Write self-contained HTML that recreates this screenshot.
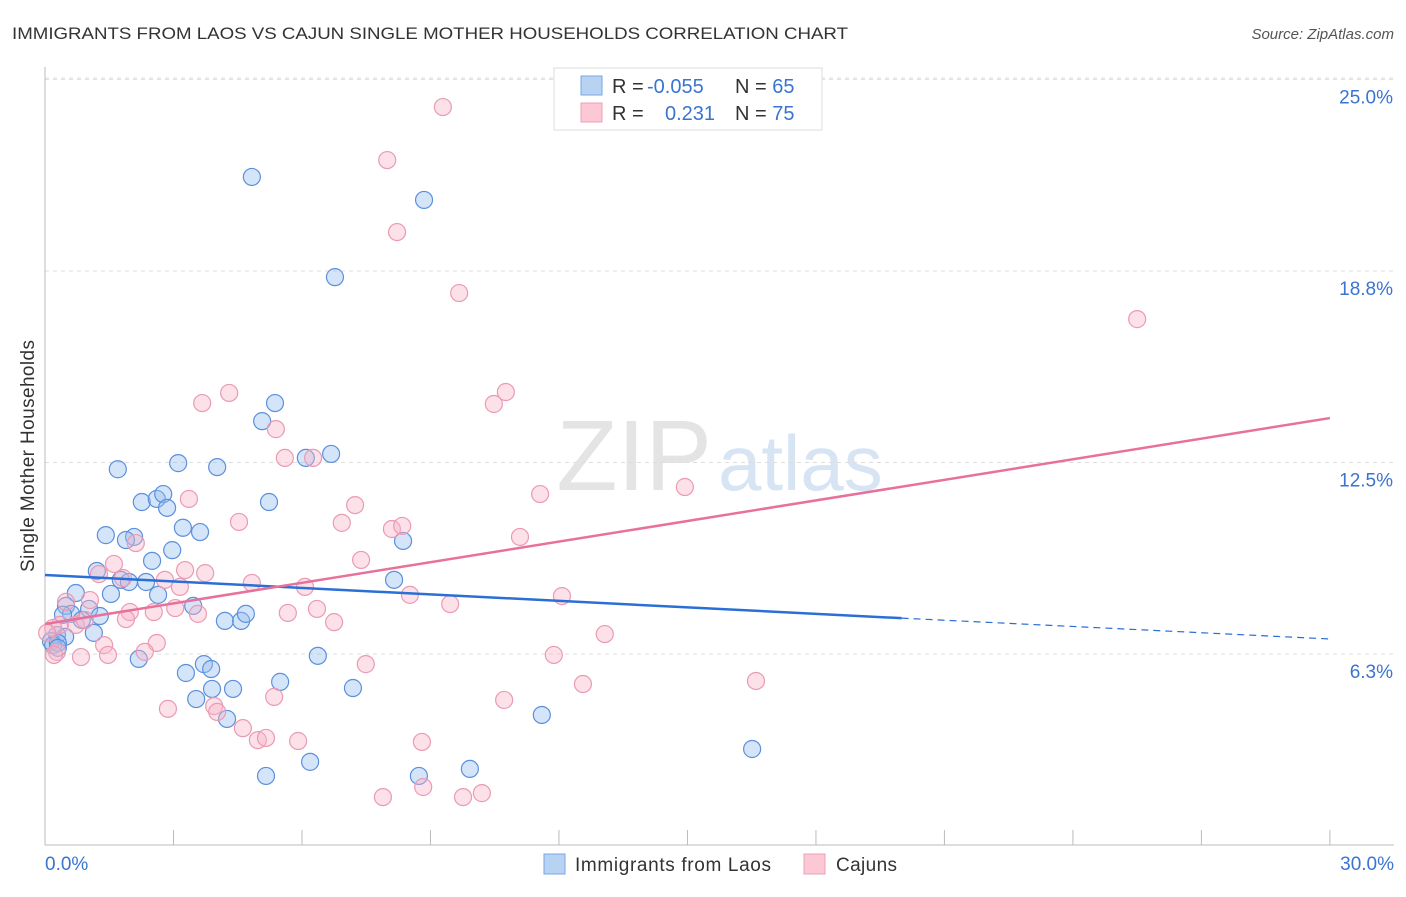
<!DOCTYPE html>
<html><head><meta charset="utf-8"><style>
body{margin:0;background:#fff;font-family:"Liberation Sans",sans-serif}
svg text{font-family:"Liberation Sans",sans-serif}
</style></head><body>
<svg id="chart" width="1406" height="892">
<text x="12" y="39" font-size="17" fill="#333" textLength="836" lengthAdjust="spacingAndGlyphs">IMMIGRANTS FROM LAOS VS CAJUN SINGLE MOTHER HOUSEHOLDS CORRELATION CHART</text>
<text x="1394" y="39" font-size="15" fill="#555" font-style="italic" text-anchor="end">Source: ZipAtlas.com</text>
<text x="712" y="490" font-size="100" fill="#e4e4e4" text-anchor="end" font-family="Liberation Serif">ZIP</text>
<text x="718" y="490" font-size="78" fill="#d6e4f4">atlas</text>
<g id="grid"></g>
<g id="axes"></g>
<g id="pts"></g>
<g id="lines"></g>
<text transform="translate(34,456) rotate(-90)" font-size="19" fill="#333" text-anchor="middle" textLength="232">Single Mother Households</text>
<g>
<rect x="554" y="68" width="268" height="62" fill="#fff" stroke="#ddd"/>
<rect x="581" y="76" width="21" height="19" fill="#b8d2f4" stroke="#7aa6e0"/>
<rect x="581" y="103" width="21" height="19" fill="#fcc8d6" stroke="#eca0b8"/>
<text x="612" y="93" font-size="20" fill="#333">R = <tspan fill="#3a74d0" x="647">-0.055</tspan></text>
<text x="735" y="93" font-size="20" fill="#333">N = <tspan fill="#3a74d0">65</tspan></text>
<text x="612" y="120" font-size="20" fill="#333">R = <tspan fill="#3a74d0" x="665">0.231</tspan></text>
<text x="735" y="120" font-size="20" fill="#333">N = <tspan fill="#3a74d0">75</tspan></text>
</g>
<g>
<rect x="544" y="854" width="21" height="20" fill="#b8d2f4" stroke="#7aa6e0"/>
<text x="575" y="871" font-size="19" fill="#333" textLength="196">Immigrants from Laos</text>
<rect x="804" y="854" width="21" height="20" fill="#fcc8d6" stroke="#eca0b8"/>
<text x="836" y="871" font-size="19" fill="#333" textLength="61">Cajuns</text>
</g>
</svg>
<script>
const yTicks=[6.25,12.5,18.75,25];
const yTickLabels=["6.3%","12.5%","18.8%","25.0%"];
const xTicks=[0,3,6,9,12,15,18,21,24,27,30];
const laosX=[4.83,8.85,6.77,5.37,5.07,6.09,6.68,3.11,4.02,1.70,5.23,2.26,2.61,2.76,2.85,3.22,3.62,1.42,2.08,1.89,2.97,2.50,1.21,1.77,1.96,2.36,1.54,2.64,0.72,8.36,8.15,0.49,1.03,1.28,0.61,0.42,0.86,1.14,0.28,0.47,0.14,0.19,0.30,4.20,4.58,4.69,3.46,2.19,3.29,3.71,3.88,3.90,4.39,5.49,3.53,4.25,6.37,7.19,11.60,16.51,5.16,6.19,8.73,9.92,0.30];
const laosY=[21.82,21.07,18.55,14.44,13.85,12.65,12.78,12.48,12.35,12.28,11.21,11.21,11.31,11.47,11.02,10.37,10.23,10.13,10.07,9.97,9.64,9.29,8.96,8.67,8.60,8.60,8.21,8.18,8.24,9.94,8.67,7.82,7.72,7.49,7.56,7.53,7.36,6.94,6.87,6.81,6.67,6.54,6.61,7.33,7.33,7.56,7.82,6.09,5.63,5.92,5.76,5.11,5.11,5.34,4.78,4.13,6.19,5.14,4.26,3.15,2.27,2.73,2.27,2.50,6.45];
const cajunX=[9.29,7.99,8.22,9.67,25.50,4.30,3.67,10.76,10.48,5.39,5.60,6.26,14.94,11.56,3.36,7.24,4.53,6.93,8.10,8.34,11.09,2.12,7.38,1.61,1.26,1.82,2.80,3.27,3.74,4.83,6.07,3.15,8.52,12.07,9.46,0.49,1.05,1.98,2.54,3.04,3.57,5.67,6.35,1.89,6.75,0.35,0.19,0.72,0.93,0.05,13.07,2.61,1.38,2.33,0.28,0.84,1.47,0.21,7.49,11.88,12.56,16.60,5.35,10.72,2.87,3.95,4.02,4.62,4.97,5.16,5.91,8.80,7.89,8.83,9.76,10.20];
const cajunY=[24.10,22.37,20.02,18.03,17.18,14.77,14.44,14.80,14.41,13.59,12.65,12.65,11.70,11.47,11.31,11.11,10.56,10.53,10.33,10.43,10.07,9.87,9.32,9.19,8.86,8.73,8.67,8.99,8.89,8.57,8.44,8.44,8.18,8.14,7.88,7.95,8.01,7.62,7.62,7.75,7.56,7.59,7.72,7.39,7.29,7.20,7.10,7.20,7.36,6.94,6.90,6.61,6.54,6.32,6.32,6.15,6.22,6.22,5.92,6.22,5.27,5.37,4.85,4.75,4.46,4.55,4.36,3.83,3.44,3.51,3.41,3.38,1.58,1.91,1.58,1.71];
const laosTrend=[8.83,7.42,6.74];
const laosTrendX=[0,20,30];
const cajunTrend=[7.23,13.95];
const cajunTrendX=[0,30];

const NS="http://www.w3.org/2000/svg";
const sx=v=>45+v*42.83;
const sy=v=>845.5-v*30.64;
function mk(tag,attrs,parent){const e=document.createElementNS(NS,tag);for(const k in attrs)e.setAttribute(k,attrs[k]);parent.appendChild(e);return e;}
const grid=document.getElementById('grid'),axes=document.getElementById('axes'),pts=document.getElementById('pts'),lines=document.getElementById('lines');
yTicks.forEach((t,i)=>{
  const l=mk('line',{x1:45,x2:1394,y1:sy(t),y2:sy(t),stroke:'#ddd','stroke-dasharray':'4,4'},grid);
  
  
  const tx=mk('text',{x:1393,y:sy(t)+24,'font-size':19,fill:'#3a74d0','text-anchor':'end'},grid);
  tx.textContent=yTickLabels[i];
  
  
});
const tl=mk('line',{x1:45,x2:1394,y1:78,y2:78,stroke:'#ddd','stroke-dasharray':'4,4'},grid);


const xa=mk('line',{x1:45,x2:1394,y1:845,y2:845,stroke:'#bbb'},axes);


const ya=mk('line',{x1:45,x2:45,y1:67,y2:845,stroke:'#bbb'},axes);


xTicks.forEach(t=>{
  const l=mk('line',{x1:sx(t),x2:sx(t),y1:830,y2:845,stroke:'#bbb'},axes);
  
  
});
const x0=mk('text',{x:45,y:870,'font-size':19,fill:'#3a74d0'},axes);x0.textContent='0.0%';


const x1=mk('text',{x:1394,y:870,'font-size':19,fill:'#3a74d0','text-anchor':'end'},axes);x1.textContent='30.0%';


laosX.forEach((v,i)=>{
  const c=mk('circle',{cx:sx(v),cy:sy(laosY[i]),r:8.5,fill:'rgba(150,190,240,0.4)',stroke:'#5b90dc','stroke-width':1.2},pts);
  
  
});
cajunX.forEach((v,i)=>{
  const c=mk('circle',{cx:sx(v),cy:sy(cajunY[i]),r:8.5,fill:'rgba(248,180,200,0.4)',stroke:'#eb9ab4','stroke-width':1.2},pts);
  
  
});
const lb=mk('line',{x1:sx(laosTrendX[0]),y1:sy(laosTrend[0]),x2:sx(laosTrendX[1]),y2:sy(laosTrend[1]),stroke:'#2a6fd6','stroke-width':2.5},lines);


const lbd=mk('line',{x1:sx(laosTrendX[1]),y1:sy(laosTrend[1]),x2:sx(laosTrendX[2]),y2:sy(laosTrend[2]),stroke:'#2a6fd6','stroke-width':1.2,'stroke-dasharray':'7,5'},lines);


const lp=mk('line',{x1:sx(cajunTrendX[0]),y1:sy(cajunTrend[0]),x2:sx(cajunTrendX[1]),y2:sy(cajunTrend[1]),stroke:'#e8709a','stroke-width':2.5},lines);


</script>
</body></html>
